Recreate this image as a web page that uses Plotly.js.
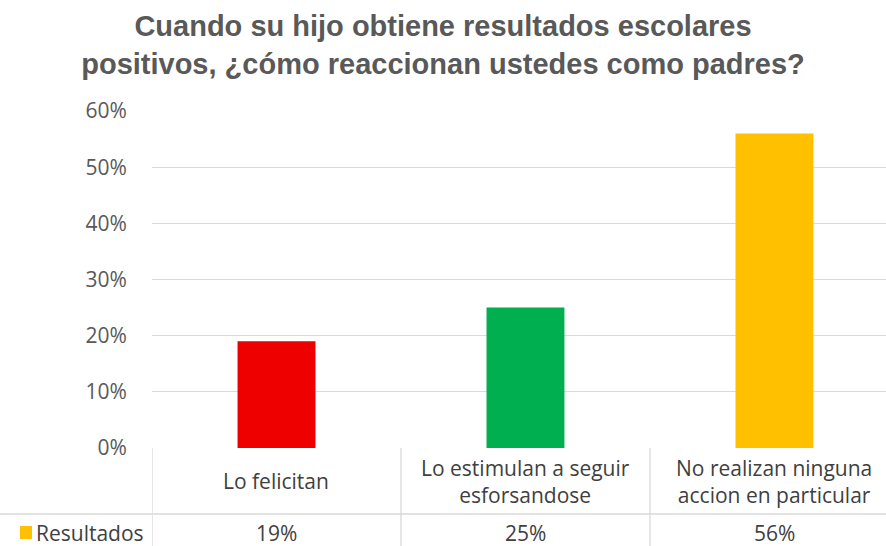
<!DOCTYPE html>
<html>
<head>
<meta charset="utf-8">
<script src="https://cdn.plot.ly/plotly-3.0.1.min.js"></script>
<style>html,body{margin:0;padding:0;background:#fff;}#chart{width:886px;height:546px;}</style>
</head>
<body>
<div id="chart"></div>
<script>
const categories = ["Lo felicitan", "Lo estimulan a seguir<br>esforsandose", "No realizan ninguna<br>accion en particular"];
const values = [0.19, 0.25, 0.56];
const valueLabels = ["19%", "25%", "56%"];
const barColors = ["#EE0000", "#00B050", "#FFC000"];
const seriesName = "Resultados";
const yTicks = [0, 0.1, 0.2, 0.3, 0.4, 0.5, 0.6];
const yTickLabels = ["0%", "10%", "20%", "30%", "40%", "50%", "60%"];

const idx = categories.map((_, i) => i);
const gridColor = "#D9D9D9";
const textColor = "#595959";
const tableFont = {family: "Open Sans, sans-serif", size: 21, color: "#404040"};

const trace = {
  type: "bar",
  x: idx,
  y: values,
  width: 0.313,
  marker: {color: barColors},
  hoverinfo: "skip",
  name: seriesName
};

const PW = 734, PH = 337;
const shapes = [];
// table horizontal line between rows (spans to the left edge)
shapes.push({type: "line", xref: "paper", yref: "paper", x0: -152/PW, x1: 1, y0: -66/PH, y1: -66/PH, line: {color: gridColor, width: 1.3}});
// vertical table lines
[-0.5, 0.5, 1.5].forEach(xv => {
  shapes.push({type: "line", xref: "x", yref: "paper", x0: xv, x1: xv, y0: 0, y1: -98/PH, line: {color: gridColor, width: 1.3}});
});
// legend key square
shapes.push({type: "rect", xref: "paper", yref: "paper", x0: -132/PW, x1: -120/PW, y0: -91/PH, y1: -78/PH, fillcolor: barColors[2], line: {width: 0}});

const annotations = [];
idx.forEach(i => {
  annotations.push({xref: "x", yref: "paper", x: i, y: -33/PH, yanchor: "middle", xanchor: "center", text: categories[i], showarrow: false, font: tableFont, align: "center"});
  annotations.push({xref: "x", yref: "paper", x: i, y: -85/PH, yanchor: "middle", xanchor: "center", text: valueLabels[i], showarrow: false, font: tableFont});
});
annotations.push({xref: "paper", yref: "paper", x: -116/PW, y: -85/PH, xanchor: "left", yanchor: "middle", text: seriesName, showarrow: false, font: tableFont, xshift: -2});

const layout = {
  width: 886,
  height: 546,
  margin: {l: 152, r: 0, t: 111, b: 98},
  paper_bgcolor: "#FFFFFF",
  plot_bgcolor: "#FFFFFF",
  showlegend: false,
  title: {
    text: "<b>Cuando su hijo obtiene resultados escolares<br>positivos, ¿cómo reaccionan ustedes como padres?</b>",
    font: {family: "Liberation Sans, Arial, sans-serif", size: 29, color: textColor},
    x: 0.5, xanchor: "center", xref: "container",
    y: 1 - 36/546, yanchor: "middle", yref: "container"
  },
  xaxis: {
    range: [-0.5, 2.448],
    showticklabels: false,
    showgrid: false,
    zeroline: false,
    showline: false,
    ticks: "",
    fixedrange: true
  },
  yaxis: {
    range: [0, 0.6],
    tickvals: yTicks,
    ticktext: yTickLabels,
    showgrid: true,
    gridcolor: gridColor,
    gridwidth: 1.3,
    zeroline: false,
    showline: false,
    ticks: "outside",
    ticklen: 20,
    tickcolor: "rgba(0,0,0,0)",
    tickfont: {family: "Open Sans, sans-serif", size: 21, color: textColor},
    fixedrange: true
  },
  shapes: shapes,
  annotations: annotations
};

Plotly.newPlot("chart", [trace], layout, {displayModeBar: false, staticPlot: true});
</script>
</body>
</html>
